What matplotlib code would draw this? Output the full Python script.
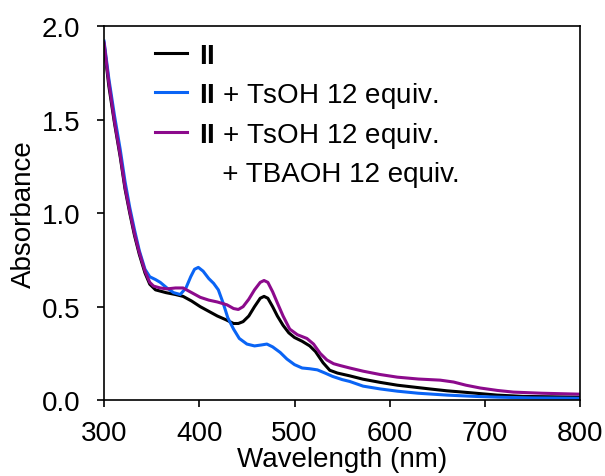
import matplotlib
matplotlib.use('Agg')
import matplotlib.pyplot as plt
from matplotlib.lines import Line2D

plt.rcParams['font.family'] = ['Liberation Sans', 'DejaVu Sans']
plt.rcParams['mathtext.fontset'] = 'custom'
plt.rcParams['mathtext.rm'] = 'Liberation Sans'
plt.rcParams['mathtext.bf'] = 'Liberation Sans:bold'

# II
wl_k = [300, 305, 311, 317, 322, 327, 332, 337, 343, 348, 354, 365, 375, 383, 392,
        401, 410, 419, 428, 436, 441, 446, 452, 458, 464, 468, 472, 477, 482, 488,
        494, 500, 508, 516, 522, 530, 537, 545, 558, 572, 590, 608, 625, 642, 660,
        677, 695, 713, 740, 770, 800]
abs_k = [1.90, 1.68, 1.48, 1.30, 1.13, 1.00, 0.88, 0.78, 0.68, 0.62, 0.59, 0.575, 0.565, 0.555, 0.53,
         0.50, 0.475, 0.45, 0.43, 0.41, 0.41, 0.42, 0.45, 0.50, 0.545, 0.555, 0.545, 0.50, 0.45, 0.40,
         0.36, 0.335, 0.315, 0.29, 0.26, 0.20, 0.16, 0.145, 0.13, 0.112, 0.095, 0.08, 0.07, 0.06, 0.05,
         0.043, 0.035, 0.027, 0.02, 0.018, 0.016]

# II + TsOH
wl_b = [300, 305, 311, 317, 322, 327, 332, 337, 343, 348, 354, 359, 366, 373, 380,
        386, 391, 395, 399, 404, 410, 415, 420, 425, 430, 436, 442, 450, 458, 465,
        471, 477, 485, 492, 500, 508, 516, 524, 532, 540, 550, 558, 572, 590, 608,
        630, 660, 690, 713, 750, 800]
abs_b = [1.92, 1.72, 1.52, 1.34, 1.17, 1.03, 0.91, 0.80, 0.70, 0.66, 0.645, 0.63, 0.60, 0.575, 0.565,
         0.60, 0.66, 0.70, 0.71, 0.69, 0.65, 0.625, 0.59, 0.52, 0.44, 0.38, 0.33, 0.30, 0.29, 0.295,
         0.30, 0.285, 0.255, 0.22, 0.19, 0.172, 0.168, 0.162, 0.145, 0.127, 0.11, 0.10, 0.075, 0.06, 0.048,
         0.037, 0.027, 0.02, 0.016, 0.012, 0.01]

# II + TsOH + TBAOH
wl_p = [300, 305, 311, 317, 322, 327, 332, 337, 343, 348, 352, 359, 366, 375, 383,
        392, 401, 410, 419, 429, 436, 441, 446, 452, 458, 464, 468, 472, 477, 482,
        488, 495, 503, 513, 520, 527, 534, 541, 548, 558, 572, 590, 608, 630, 653,
        667, 680, 695, 713, 730, 760, 800]
abs_p = [1.91, 1.70, 1.49, 1.31, 1.14, 1.01, 0.89, 0.79, 0.69, 0.63, 0.61, 0.60, 0.595, 0.60, 0.60,
         0.575, 0.55, 0.535, 0.525, 0.51, 0.49, 0.485, 0.50, 0.54, 0.59, 0.63, 0.64, 0.63, 0.58, 0.52,
         0.45, 0.38, 0.35, 0.33, 0.30, 0.25, 0.215, 0.195, 0.185, 0.172, 0.155, 0.137, 0.123, 0.113, 0.107,
         0.097, 0.08, 0.065, 0.052, 0.043, 0.037, 0.032]

labels = [r'$\mathbf{II}$',
          r'$\mathbf{II}$ + TsOH 12 equiv.',
          r'$\mathbf{II}$ + TsOH 12 equiv.',
          '   + TBAOH 12 equiv.']

fs = 20
fig = plt.figure(figsize=(6.05, 4.77), dpi=100)
ax = fig.add_axes([0.172, 0.159, 0.787, 0.784])

lw = 2.2
ax.plot(wl_k, abs_k, color='black', lw=lw)
ax.plot(wl_b, abs_b, color='#0a64f5', lw=lw)
ax.plot(wl_p, abs_p, color='#8c0a8c', lw=lw)

ax.set_xlim(300, 800)
ax.set_ylim(0, 2.0)
ax.set_xticks([300, 400, 500, 600, 700, 800])
ax.set_yticks([0.0, 0.5, 1.0, 1.5, 2.0])
ax.set_yticklabels(['0.0', '0.5', '1.0', '1.5', '2.0'])
ax.tick_params(direction='out', length=5, width=1.2, labelsize=fs, pad=9)
ax.tick_params(axis='y', pad=12)
for s in ax.spines.values():
    s.set_linewidth(1.2)
ax.set_xlabel('Wavelength (nm)', fontsize=fs, labelpad=0)
ax.set_ylabel('Absorbance', fontsize=fs, labelpad=3.5)

handles = [Line2D([], [], color='black', lw=lw),
           Line2D([], [], color='#0a64f5', lw=lw),
           Line2D([], [], color='#8c0a8c', lw=lw),
           Line2D([], [], color='none', lw=lw)]
ax.legend(handles, labels, loc='upper left', bbox_to_anchor=(0.107, 0.955),
          frameon=False, fontsize=fs, borderpad=0, borderaxespad=0,
          handlelength=1.15, handletextpad=0.45, labelspacing=0.38)

fig.savefig('out.png', dpi=100)
